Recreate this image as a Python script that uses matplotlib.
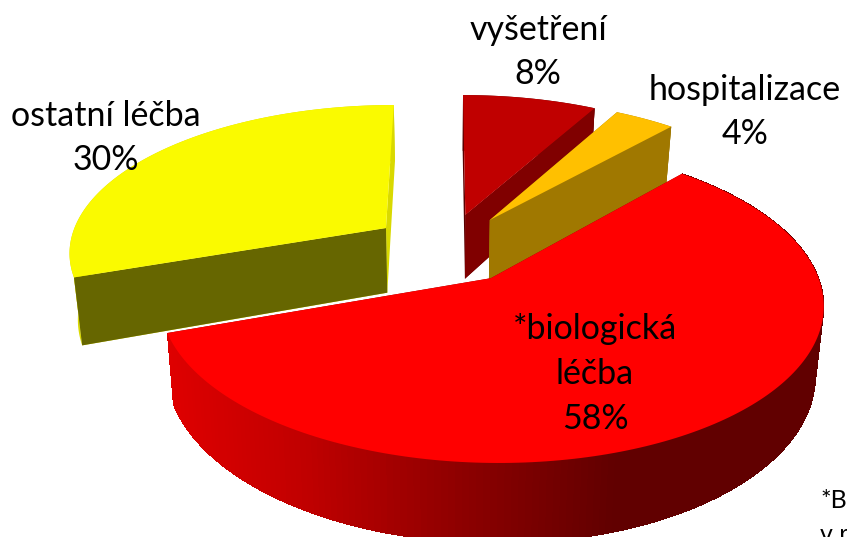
import numpy as np
import matplotlib
matplotlib.use('Agg')
import matplotlib.pyplot as plt
from matplotlib.patches import Polygon

plt.rcParams['font.family'] = ['Lato', 'DejaVu Sans']

# data, clockwise from 12 o'clock
labels = ['vyšetření', 'hospitalizace', '*biologická\nléčba', 'ostatní léčba']
values = [8.0, 3.6, 58.0, 30.4]
top_colors = ['#C00000', '#FFC000', '#FF0000', '#FAFA00']
side_colors = ['#800000', '#A07800', '#800000', '#666600']
back_colors = ['#5A0000', '#A07800', '#800000', '#D9D900']
label_pos = [(538, 52), (745, 112), (595, 374), (106, 138)]

# view of the 3d pie, fitted by eye
cx, cy = 447, 248
A, B = 318, 147
k = 0.15
height = 66
explode = 0.24


def project(th, r, mid, z=0.0):
    X = r * np.sin(th) + explode * np.sin(mid)
    Y = r * np.cos(th) + explode * np.cos(mid)
    s = 1 / (1 + k * Y)
    x = cx + A * X * s * (1 - 0.022 * z)
    y = cy - B * Y * s + height * z * s
    return x, y


def radial_side(th, mid):
    pts = [project(th, 0, mid), project(th, 1, mid), project(th, 1, mid, 1), project(th, 0, mid, 1)]
    return pts


def wall_color(x):
    # gradient along the front wall of the big slice
    return (np.interp(x, [170, 300, 460, 620], [0.87, 0.76, 0.56, 0.38]), 0, 0)


fig = plt.figure(figsize=(8.47, 5.37), dpi=100)
ax = fig.add_axes([0, 0, 1, 1])
ax.set_xlim(0, 847)
ax.set_ylim(537, 0)
ax.axis('off')

edges = np.radians(np.cumsum([0] + values) * 3.6)
for i in [0, 1, 3, 2]:
    t0, t1 = edges[i], edges[i + 1]
    mid = (t0 + t1) / 2
    arc = np.linspace(t0, t1, 200)

    ax.add_patch(Polygon(radial_side(t0, mid), color=back_colors[i], lw=0))
    ax.add_patch(Polygon(radial_side(t1, mid), color=back_colors[i], lw=0))

    # outer wall, strips overlap the next one so no seams show
    if i == 2:
        for j in range(len(arc) - 1):
            a, b = arc[j], arc[min(j + 3, len(arc) - 1)]
            c = wall_color(project(arc[j], 1, mid)[0])
            quad = [project(a, 1, mid), project(b, 1, mid), project(b, 1, mid, 1), project(a, 1, mid, 1)]
            ax.add_patch(Polygon(quad, facecolor=c, edgecolor='none', antialiased=False))
    else:
        wall = [project(t, 1, mid) for t in arc] + [project(t, 1, mid, 1) for t in arc[::-1]]
        ax.add_patch(Polygon(wall, color=back_colors[i], lw=0))

    # side face that looks at the viewer
    if i == 3:
        ax.add_patch(Polygon(radial_side(t0, mid), color=side_colors[i], lw=0))
    elif i < 2:
        ax.add_patch(Polygon(radial_side(t1, mid), color=side_colors[i], lw=0))

    top = [project(0, 0, mid)] + [project(t, 1, mid) for t in arc]
    ax.add_patch(Polygon(top, color=top_colors[i], lw=0))

for lab, val, (x, y) in zip(labels, values, label_pos):
    ax.text(x, y, '{}\n{:.0f}%'.format(lab, val), ha='center', va='center', fontsize=24.5,
            color='black', linespacing=1.5)

ax.text(820, 500, '*B', ha='left', va='center', fontsize=18, color='black', clip_on=False)
ax.text(820, 535, 'v r', ha='left', va='center', fontsize=18, color='black', clip_on=False)

fig.savefig('out.png', dpi=100)
